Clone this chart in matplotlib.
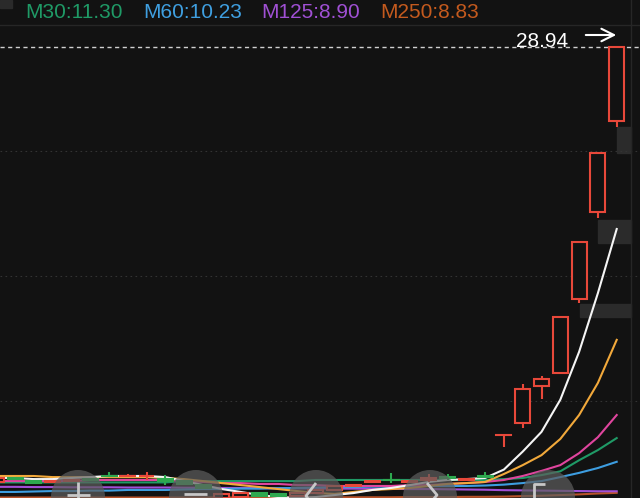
import matplotlib
matplotlib.use("Agg")
import matplotlib.pyplot as plt
from matplotlib.patches import Rectangle, Circle

# ---- daily bars, oldest first (last bar closes at the 28.94 high) ----
opens  = [9.32, 9.50, 9.36, 9.30, 9.36, 9.45, 9.61, 9.59, 9.57, 9.45,
          9.36, 9.18, 8.60, 8.62, 8.82, 8.78, 8.69, 8.82, 8.96, 9.14,
          9.34, 9.43, 9.34, 9.41, 9.54, 9.41, 9.59, 11.44, 11.97, 13.64,
          14.24, 17.57, 21.50, 25.60]
highs  = [9.54, 9.54, 9.38, 9.41, 9.45, 9.50, 9.77, 9.68, 9.77, 9.63,
          9.41, 9.23, 8.82, 8.87, 8.87, 8.82, 8.87, 9.00, 9.18, 9.23,
          9.41, 9.72, 9.41, 9.68, 9.68, 9.50, 9.77, 11.44, 13.74, 14.10,
          16.76, 20.14, 24.15, 28.94]
lows   = [9.27, 9.41, 9.25, 9.27, 9.32, 9.36, 9.54, 9.54, 9.41, 9.18,
          9.18, 9.00, 8.58, 8.58, 8.64, 8.64, 8.64, 8.78, 8.91, 9.09,
          9.30, 9.27, 9.32, 9.32, 9.41, 9.36, 9.50, 10.90, 11.75, 13.06,
          14.24, 17.39, 21.23, 25.33]
closes = [9.50, 9.45, 9.27, 9.36, 9.41, 9.41, 9.59, 9.61, 9.61, 9.36,
          9.23, 9.05, 8.78, 8.82, 8.69, 8.69, 8.82, 8.96, 9.14, 9.20,
          9.38, 9.41, 9.38, 9.50, 9.50, 9.45, 9.54, 11.44, 13.51, 13.96,
          16.76, 20.14, 24.15, 28.94]

# ---- moving averages ----
ma5   = [9.50, 9.50, 9.45, 9.45, 9.50, 9.54, 9.59, 9.59, 9.59, 9.54,
         9.36, 9.18, 9.00, 8.87, 8.73, 8.64, 8.60, 8.64, 8.73, 8.82,
         8.96, 9.05, 9.18, 9.32, 9.41, 9.45, 9.50, 9.88, 10.69, 11.58,
         13.03, 15.19, 17.84, 20.73]
ma10  = [9.59, 9.59, 9.59, 9.54, 9.54, 9.54, 9.54, 9.54, 9.54, 9.50,
         9.45, 9.36, 9.27, 9.18, 9.09, 9.00, 8.91, 8.82, 8.78, 8.87,
         8.96, 9.00, 9.05, 9.14, 9.23, 9.27, 9.32, 9.68, 10.08, 10.53,
         11.26, 12.34, 13.79, 15.73]
ma20  = [9.36, 9.36, 9.36, 9.36, 9.36, 9.41, 9.41, 9.41, 9.41, 9.41,
         9.36, 9.32, 9.27, 9.27, 9.23, 9.23, 9.18, 9.18, 9.14, 9.14,
         9.14, 9.14, 9.18, 9.18, 9.23, 9.27, 9.32, 9.41, 9.59, 9.82,
         10.08, 10.62, 11.34, 12.34]
ma30  = [9.30, 9.30, 9.30, 9.30, 9.30, 9.30, 9.30, 9.30, 9.30, 9.30,
         9.36, 9.36, 9.36, 9.36, 9.36, 9.36, 9.36, 9.41, 9.41, 9.41,
         9.41, 9.41, 9.41, 9.41, 9.41, 9.41, 9.41, 9.45, 9.50, 9.63,
         9.80, 10.30, 10.76, 11.30]
ma60  = [8.87, 8.87, 8.89, 8.91, 8.91, 8.93, 8.93, 8.96, 8.96, 8.96,
         8.98, 9.00, 9.00, 9.02, 9.02, 9.04, 9.05, 9.07, 9.09, 9.09,
         9.11, 9.11, 9.13, 9.14, 9.14, 9.14, 9.16, 9.20, 9.27, 9.36,
         9.54, 9.73, 9.95, 10.23]
ma125 = [9.10, 9.10, 9.09, 9.09, 9.08, 9.08, 9.08, 9.07, 9.07, 9.07,
         9.06, 9.06, 9.05, 9.05, 9.04, 9.04, 9.03, 9.03, 9.02, 9.02,
         9.01, 9.01, 9.00, 9.00, 8.99, 8.98, 8.97, 8.95, 8.94, 8.93,
         8.92, 8.91, 8.90, 8.90]
ma250 = [8.62, 8.62, 8.62, 8.62, 8.62, 8.62, 8.62, 8.62, 8.62, 8.62,
         8.62, 8.62, 8.62, 8.62, 8.62, 8.62, 8.62, 8.63, 8.63, 8.63,
         8.63, 8.63, 8.64, 8.64, 8.64, 8.65, 8.65, 8.66, 8.68, 8.70,
         8.73, 8.76, 8.80, 8.83]

legend_names  = ["M30", "M60", "M125", "M250"]
legend_values = [11.30, 10.23, 8.90, 8.83]
legend_colors = ["#1f9a66", "#3f9fe0", "#a050d4", "#c45a1e"]

BG = "#121212"
RED = "#e8483a"
GREEN = "#2ea84f"
W, H = 640, 498


def draw_candles(ax):
    w = 0.8
    for i, (o, h, l, c) in enumerate(zip(opens, highs, lows, closes)):
        col = RED if c >= o else GREEN
        top, bot = max(o, c), min(o, c)
        ax.plot([i, i], [top, h], color=col, lw=1.5, zorder=3, solid_capstyle="butt")
        ax.plot([i, i], [l, bot], color=col, lw=1.5, zorder=3, solid_capstyle="butt")
        if top - bot < 0.02:
            ax.plot([i - w / 2, i + w / 2], [top, top], color=col, lw=1.5, zorder=3)
        elif c >= o:
            ax.add_patch(Rectangle((i - w / 2, bot), w, top - bot, facecolor=BG,
                                   edgecolor=col, lw=1.5, zorder=3))
        else:
            ax.add_patch(Rectangle((i - w / 2, bot), w, top - bot, facecolor=col,
                                   edgecolor=col, lw=1.5, zorder=3))


def main():
    fig = plt.figure(figsize=(W / 100, H / 100), dpi=100, facecolor=BG)

    # background layer in pixel coords (grid, separators, price tags)
    bg = fig.add_axes([0, 0, 1, 1], zorder=0)
    bg.set_xlim(0, W)
    bg.set_ylim(H, 0)
    bg.set_facecolor(BG)
    bg.axis("off")
    bg.axhline(25, color="#262626", lw=1)
    for gy in [151, 276, 401]:
        bg.axhline(gy, color="#333333", lw=0.8, linestyle=(0, (1.5, 3)))
    bg.axvline(631, color="#262626", lw=1)
    bg.add_patch(Rectangle((0, 0), 12, 8, color="#2a2a2a"))
    for (x0, y0, x1, y1) in [(617, 127, 631, 153), (598, 220, 631, 243), (580, 304, 631, 317)]:
        bg.add_patch(Rectangle((x0, y0), x1 - x0, y1 - y0, color="#2b2b2b"))

    # price chart
    ax = fig.add_axes([0, 0, 1, 1], zorder=1)
    ax.patch.set_alpha(0)
    ax.axis("off")
    n = len(closes)
    ax.set_xlim(0.197, 34.239)
    ax.set_ylim(8.597, 31.06)

    xs = list(range(n))
    lines = [(ma250, "#b8532a"), (ma125, "#a24fd6"), (ma60, "#3d9de0"),
             (ma30, "#1f9a66"), (ma20, "#e0459e"), (ma10, "#f2a93b"), (ma5, "#f5f5f5")]
    for vals, col in lines:
        ax.plot(xs, vals, color=col, lw=1.5, zorder=2)
    draw_candles(ax)

    top = max(highs)
    ax.axhline(top, color="#d0d0d0", lw=1, linestyle=(0, (3, 2.5)), zorder=1)

    # overlay: legend, high label, floating buttons
    fg = fig.add_axes([0, 0, 1, 1], zorder=5)
    fg.set_xlim(0, W)
    fg.set_ylim(H, 0)
    fg.patch.set_alpha(0)
    fg.axis("off")

    for k, (name, val, col) in enumerate(zip(legend_names, legend_values, legend_colors)):
        fg.text(25 + 118.3 * k, 17.5, f"{name}:{val:.2f}", color=col, fontsize=15,
                family="Liberation Sans", va="baseline", ha="left")

    fg.text(568, 46.5, f"{top:.2f}", color="white", fontsize=15,
            family="Liberation Sans", va="baseline", ha="right")
    fg.annotate("", xy=(619, 35), xytext=(583, 35),
                arrowprops=dict(arrowstyle="->,head_length=0.9,head_width=0.45",
                                color="white", lw=1.5))

    for cx in [78, 196, 316, 430, 548]:
        fg.add_patch(Circle((cx, 497), 27, facecolor="#5e5e5e", alpha=0.7, lw=0))
    icon = dict(color="#c8c8c8", lw=2, solid_capstyle="butt")
    fg.plot([78, 78], [482, 498], **icon)
    fg.plot([67, 90], [495, 495], **icon)
    fg.plot([184, 207], [494, 494], **icon)
    fg.plot([316, 306, 316], [483, 496, 509], **icon)
    fg.plot([427, 437, 427], [483, 495, 507], **icon)
    fg.plot([545, 534, 534], [484, 484, 498], **icon)

    fig.savefig("out.png", dpi=100, facecolor=BG)
    plt.close(fig)


if __name__ == "__main__":
    main()
